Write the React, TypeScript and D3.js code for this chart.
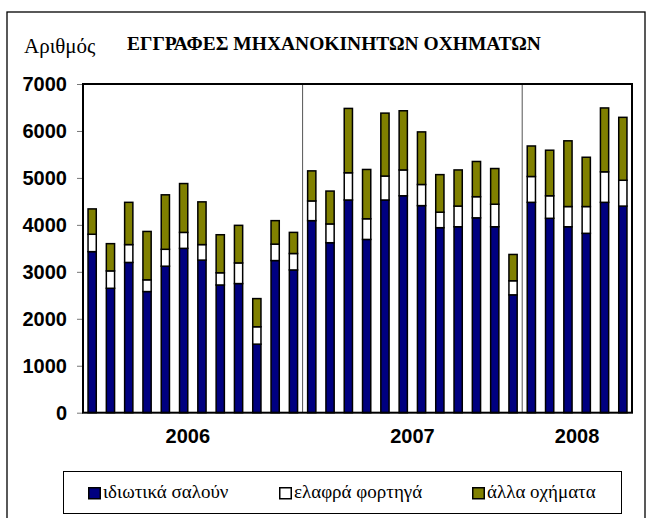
import React, { useEffect, useRef } from "react";
import * as d3 from "d3";

const years = ["2006", "2007", "2008"];
const monthsPerYear = [12, 12, 6];

const seriesNames = ["ιδιωτικά σαλούν", "ελαφρά φορτηγά", "άλλα οχήματα"];

const saloons = [
  3430, 2650, 3200, 2580, 3120, 3500, 3250, 2720, 2750, 1460, 3240, 3040,
  4090, 3620, 4530, 3690, 4530, 4620, 4410, 3940, 3960, 4150, 3960, 2510,
  4480, 4140, 3960, 3820, 4480, 4400,
];
const lightTrucks = [
  370, 370, 380, 250, 360, 340, 330, 260, 440, 370, 350, 350,
  420, 400, 580, 440, 510, 550, 450, 330, 440, 450, 480, 300,
  550, 480, 430, 570, 650, 550,
];
const otherVehicles = [
  540, 580, 900, 1030, 1160, 1040, 910, 810, 800, 600, 500, 450,
  640, 700, 1370, 1050, 1340, 1260, 1120, 800, 770, 750, 760, 560,
  650, 970, 1400, 1050, 1360, 1340,
];

const yTicks = [0, 1000, 2000, 3000, 4000, 5000, 6000, 7000];

const colors = ["#000080", "#ffffff", "#808000"];

const W = 652;
const H = 518;
const SERIF = "'Liberation Serif', 'Times New Roman', serif";
const SANS = "'Liberation Sans', Arial, sans-serif";

const App = () => {
  const ref = useRef<SVGSVGElement | null>(null);

  useEffect(() => {
    const svg = d3.select(ref.current);
    svg.selectAll("*").remove();

    const margin = { top: 84, right: 20, bottom: 105.3, left: 83 };
    const plotW = W - margin.left - margin.right;
    const plotH = H - margin.top - margin.bottom;

    // one row per month
    const rows = saloons.map((s, i) => ({
      idx: i,
      s0: s,
      s1: lightTrucks[i],
      s2: otherVehicles[i],
    }));

    const x = d3
      .scaleBand<number>()
      .domain(rows.map((d) => d.idx))
      .range([margin.left, margin.left + plotW])
      .paddingInner(0.55)
      .paddingOuter(0.275);

    const y = d3
      .scaleLinear()
      .domain([0, 7000])
      .range([margin.top + plotH, margin.top]);

    // outer frame
    svg
      .append("rect")
      .attr("x", 7)
      .attr("y", 12)
      .attr("width", 638)
      .attr("height", 520)
      .attr("fill", "none")
      .attr("stroke", "#000")
      .attr("stroke-width", 1.3);

    // y label + title
    svg
      .append("text")
      .attr("x", 24)
      .attr("y", 53)
      .style("font-family", SERIF)
      .style("font-size", "21px")
      .text("Αριθμός");

    svg
      .append("text")
      .attr("x", 127)
      .attr("y", 50)
      .style("font-family", SERIF)
      .style("font-size", "19.5px")
      .style("font-weight", "bold")
      .text("ΕΓΓΡΑΦΕΣ ΜΗΧΑΝΟΚΙΝΗΤΩΝ ΟΧΗΜΑΤΩΝ");

    // year separators
    let acc = 0;
    monthsPerYear.slice(0, -1).forEach((n) => {
      acc += n;
      const sx = x(acc)! - (x.step() * x.paddingInner()) / 2;
      svg
        .append("line")
        .attr("x1", sx)
        .attr("x2", sx)
        .attr("y1", margin.top)
        .attr("y2", margin.top + plotH)
        .attr("stroke", "#555")
        .attr("stroke-width", 1);
    });

    // y axis
    const yAxis = svg
      .append("g")
      .attr("transform", `translate(${margin.left},0)`)
      .call(
        d3
          .axisLeft(y)
          .tickValues(yTicks)
          .tickSize(6)
          .tickPadding(10)
          .tickFormat((d) => String(d))
      );
    yAxis.select(".domain").remove();
    yAxis.selectAll(".tick line").attr("stroke", "#777");
    yAxis
      .selectAll("text")
      .attr("fill", "#000")
      .style("font-family", SANS)
      .style("font-size", "20px")
      .style("font-weight", "bold");

    // stacked bars
    const stack = d3.stack<any>().keys(["s0", "s1", "s2"]);
    const layers = stack(rows);

    svg
      .append("g")
      .selectAll("g")
      .data(layers)
      .enter()
      .append("g")
      .attr("fill", (_d, i) => colors[i])
      .selectAll("rect")
      .data((d) => d)
      .enter()
      .append("rect")
      .attr("x", (d: any) => x(d.data.idx)!)
      .attr("width", x.bandwidth())
      .attr("y", (d) => y(d[1]))
      .attr("height", (d) => y(d[0]) - y(d[1]))
      .attr("stroke", "#000")
      .attr("stroke-width", 1.5);

    // plot frame
    svg
      .append("rect")
      .attr("x", margin.left)
      .attr("y", margin.top)
      .attr("width", plotW)
      .attr("height", plotH)
      .attr("fill", "none")
      .attr("stroke", "#000")
      .attr("stroke-width", 2);

    // year labels
    let start = 0;
    years.forEach((yr, i) => {
      const n = monthsPerYear[i];
      const x0 = margin.left + start * x.step();
      const x1 = margin.left + (start + n) * x.step();
      start += n;
      svg
        .append("text")
        .attr("x", (x0 + x1) / 2 - (i === 0 ? 5 : 0))
        .attr("y", 443)
        .attr("text-anchor", "middle")
        .style("font-family", SANS)
        .style("font-size", "20px")
        .style("font-weight", "bold")
        .text(yr);
    });

    // legend
    svg
      .append("rect")
      .attr("x", 63.5)
      .attr("y", 471.5)
      .attr("width", 558)
      .attr("height", 42)
      .attr("fill", "#fff")
      .attr("stroke", "#000")
      .attr("stroke-width", 1);

    const legendX = [88, 279, 472];
    seriesNames.forEach((name, i) => {
      svg
        .append("rect")
        .attr("x", legendX[i] + 0.75)
        .attr("y", 487.75)
        .attr("width", 11.5)
        .attr("height", 11)
        .attr("fill", colors[i])
        .attr("stroke", "#000")
        .attr("stroke-width", 1.5);
      svg
        .append("text")
        .attr("x", legendX[i] + 15)
        .attr("y", 498)
        .style("font-family", SERIF)
        .style("font-size", "19px")
        .text(name);
    });
  }, []);

  return (
    <svg
      ref={ref}
      width={W}
      height={H}
      style={{ position: "absolute", left: 0, top: 0, background: "#fff" }}
    />
  );
};

export default App;
